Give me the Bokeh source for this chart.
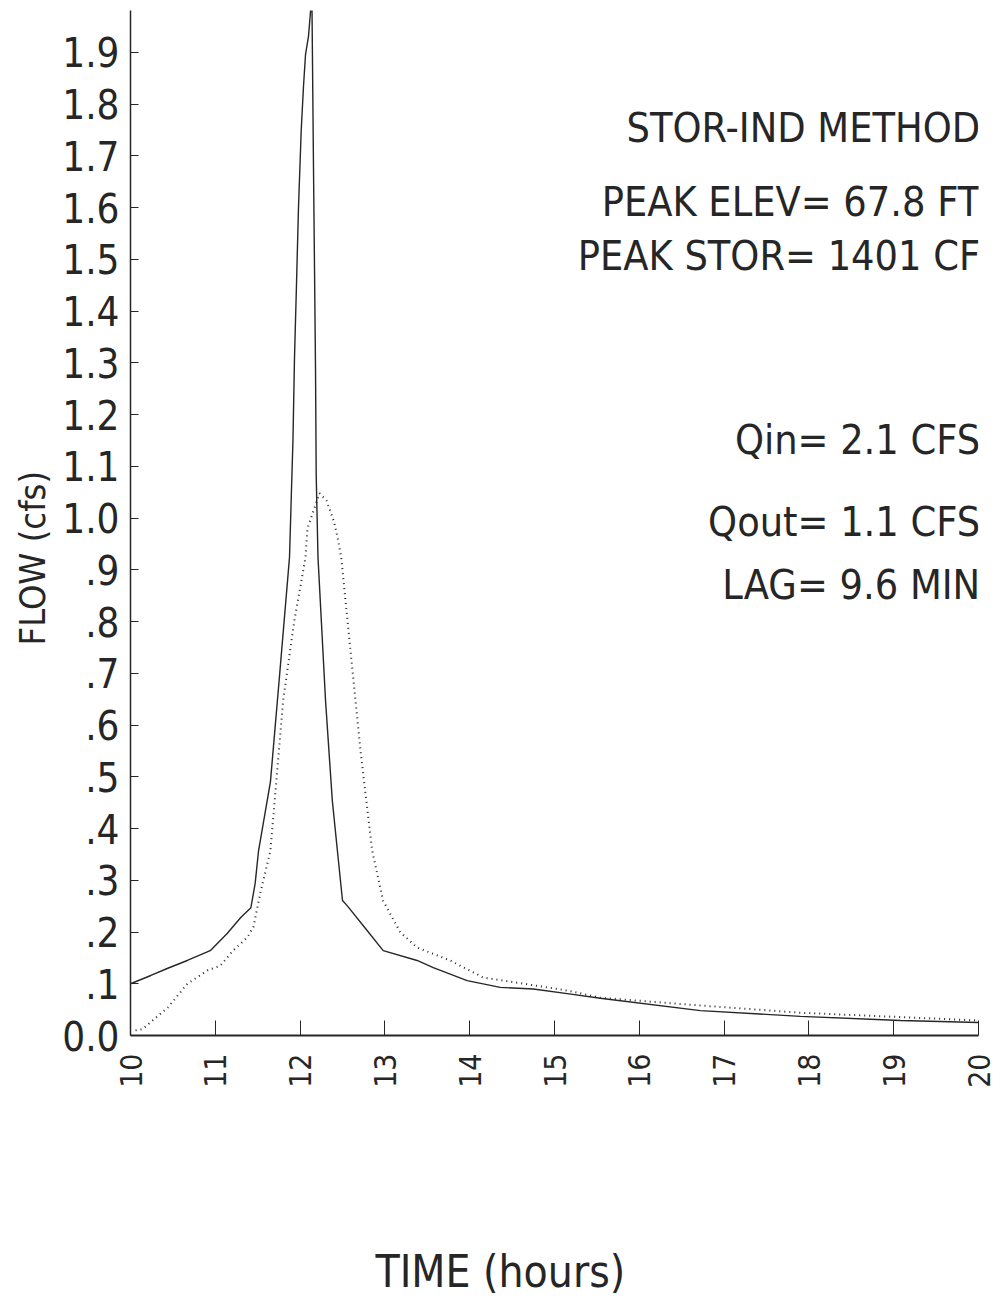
import math
from bokeh.plotting import figure
from bokeh.models import FixedTicker, Label, Title
from bokeh.embed import file_html
from bokeh.resources import INLINE

# ---- data ----
t_in = [10.00, 10.24, 10.44, 10.67, 10.94, 11.14, 11.30, 11.42, 11.47, 11.51,
        11.65, 11.76, 11.875, 11.916, 11.934, 11.958, 11.981, 12.013, 12.040, 12.064,
        12.099, 12.123, 12.13, 12.14, 12.158, 12.170, 12.182, 12.190, 12.211, 12.30,
        12.38, 12.44, 12.50, 12.555, 12.79, 12.98, 13.38, 13.57, 13.97, 14.36,
        14.75, 15.15, 15.54, 16.72, 17.90, 19.08, 20.00]
q_in = [0.100, 0.116, 0.130, 0.145, 0.164, 0.197, 0.228, 0.247, 0.294, 0.357,
        0.490, 0.700, 0.924, 1.152, 1.310, 1.455, 1.600, 1.749, 1.834, 1.896,
        1.931, 1.979, 2.100, 1.990, 1.676, 1.482, 1.283, 1.082, 0.924, 0.647,
        0.454, 0.357, 0.261, 0.251, 0.203, 0.164, 0.145, 0.131, 0.106, 0.093,
        0.090, 0.081, 0.072, 0.048, 0.037, 0.029, 0.025]

t_out = [10.06, 10.14, 10.44, 10.67, 10.91, 11.06, 11.21, 11.38, 11.45, 11.53,
         11.65, 11.80, 11.93, 12.064, 12.087, 12.170, 12.229, 12.311, 12.40, 12.44,
         12.485, 12.594, 12.712, 12.85, 12.98, 13.18, 13.38, 13.77, 14.16, 14.56,
         15.15, 15.54, 16.72, 17.90, 20.00]
q_out = [0.010, 0.012, 0.054, 0.100, 0.126, 0.135, 0.164, 0.190, 0.210, 0.275,
         0.357, 0.647, 0.800, 0.924, 0.980, 1.020, 1.048, 1.034, 0.993, 0.964,
         0.924, 0.744, 0.551, 0.357, 0.260, 0.200, 0.170, 0.145, 0.112, 0.102,
         0.087, 0.073, 0.058, 0.044, 0.029]

x_ticks = [10, 11, 12, 13, 14, 15, 16, 17, 18, 19, 20]
x_tick_labels = ["10", "11", "12", "13", "14", "15", "16", "17", "18", "19", "20"]
y_ticks = [0.0, 0.1, 0.2, 0.3, 0.4, 0.5, 0.6, 0.7, 0.8, 0.9,
           1.0, 1.1, 1.2, 1.3, 1.4, 1.5, 1.6, 1.7, 1.8, 1.9]
y_tick_labels = ["0.0", ".1", ".2", ".3", ".4", ".5", ".6", ".7", ".8", ".9",
                 "1.0", "1.1", "1.2", "1.3", "1.4", "1.5", "1.6", "1.7", "1.8", "1.9"]

info_lines = ["STOR-IND METHOD", "PEAK ELEV= 67.8 FT", "PEAK STOR= 1401 CF",
              "Qin= 2.1 CFS", "Qout= 1.1 CFS", "LAG= 9.6 MIN"]
info_y = [1.753, 1.610, 1.506, 1.150, 0.993, 0.870]

x_title = "TIME (hours)"
y_title = "FLOW (cfs)"

INK = "#262626"
FONT = "DejaVu Sans Condensed"

p = figure(width=995, height=1310, x_range=(10, 20), y_range=(0, 1.981),
           output_backend="svg", toolbar_location=None,
           min_border_left=130, min_border_right=17,
           min_border_top=10, min_border_bottom=275)
p.outline_line_color = None
p.xgrid.visible = False
p.ygrid.visible = False
p.background_fill_color = "white"
p.border_fill_color = "white"

p.line(t_in, q_in, line_color=INK, line_width=1.4)
p.line(t_out, q_out, line_color=INK, line_width=2, line_dash="1 4")

xa = p.xaxis[0]
xa.ticker = FixedTicker(ticks=x_ticks)
xa.major_label_overrides = dict(zip(x_ticks, x_tick_labels))
xa.major_label_orientation = math.pi / 2
xa.major_tick_in = 15
xa.major_tick_out = 0
xa.minor_tick_line_color = None
xa.axis_line_width = 2
xa.axis_line_color = INK
xa.major_tick_line_color = INK
xa.major_label_standoff = 18
xa.major_label_text_font = FONT
xa.major_label_text_font_size = "30px"
xa.major_label_text_color = INK

ya = p.yaxis[0]
ya.ticker = FixedTicker(ticks=y_ticks)
ya.major_label_overrides = dict(zip(y_ticks, y_tick_labels))
ya.major_tick_in = 8
ya.major_tick_out = 0
ya.minor_tick_line_color = None
ya.axis_line_width = 1.5
ya.axis_line_color = INK
ya.major_tick_line_color = INK
ya.major_label_standoff = 11
ya.major_label_text_font = FONT
ya.major_label_text_font_size = "40px"
ya.major_label_text_color = INK

for txt, yy in zip(info_lines, info_y):
    p.add_layout(Label(x=20.02, y=yy, text=txt, text_align="right",
                       text_baseline="middle", text_font=FONT,
                       text_font_size="41px", text_color=INK))

# spacer panel between the tick labels and the x title
p.add_layout(Title(text=" ", standoff=142, text_font_size="10px",
                   text_color="white"), "below")
p.add_layout(Title(text=x_title, align="left", offset=245, standoff=0,
                   vertical_align="top",
                   text_font=FONT, text_font_size="44px",
                   text_font_style="normal", text_color=INK), "below")
p.add_layout(Title(text=y_title, align="left", offset=390, standoff=10,
                   vertical_align="top",
                   text_font=FONT, text_font_size="36px",
                   text_font_style="normal", text_color=INK), "left")

open("out.html", "w").write(file_html(p, INLINE))
